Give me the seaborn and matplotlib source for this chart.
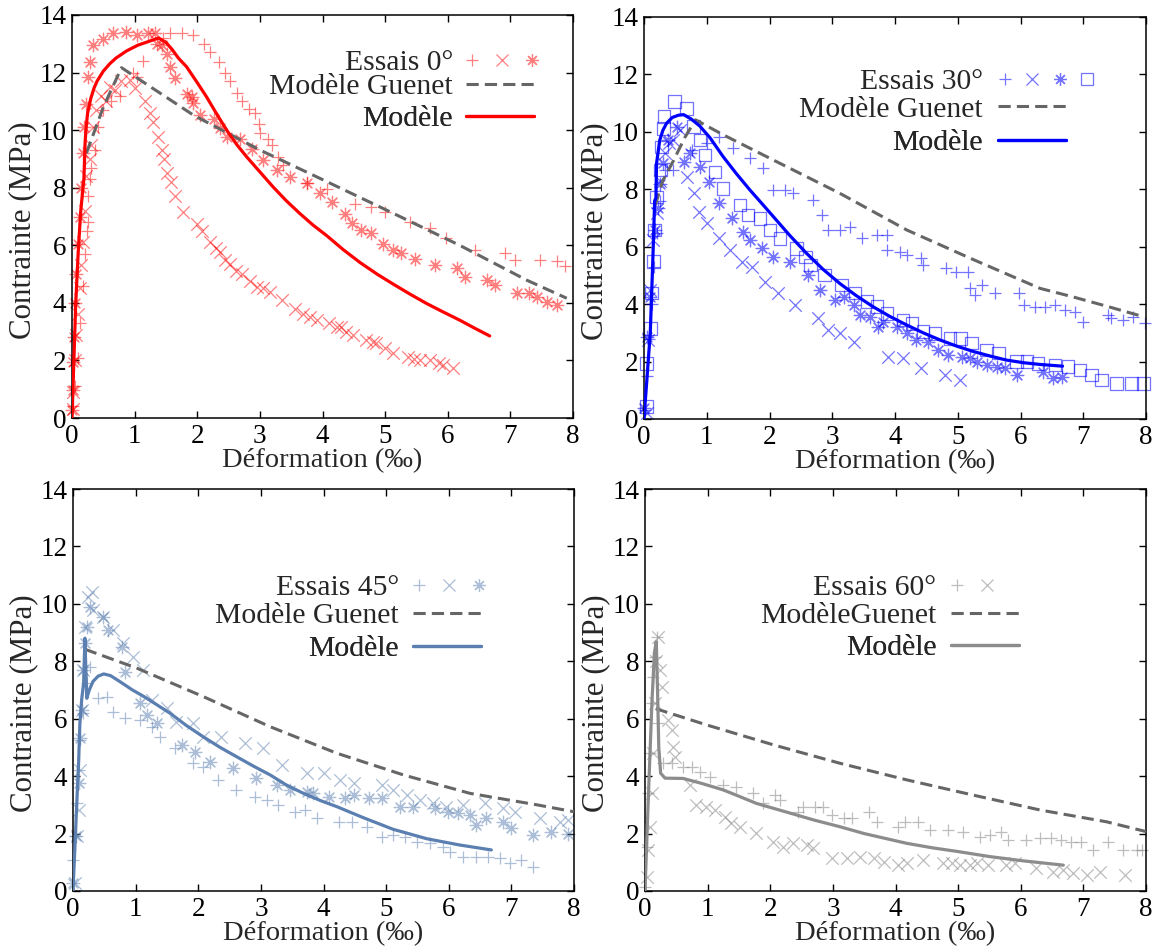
import numpy as np
import matplotlib
matplotlib.use("Agg")
import matplotlib.pyplot as plt
import matplotlib.lines as mlines
from matplotlib.legend_handler import HandlerTuple
import seaborn as sns

# ---------------- data: panel 0 deg ----------------
p0_plus_x = [0.02, 0.05, 0.09, 0.13, 0.17, 0.21, 0.24, 0.26, 0.26, 0.29, 0.31, 0.37, 0.42, 0.50, 0.63, 0.77, 0.98, 1.03, 1.14, 1.45,
             1.57, 1.75, 1.94, 2.10, 2.20, 2.35, 2.44, 2.53, 2.63, 2.71, 2.82, 2.92, 2.98, 3.00, 3.13, 3.20, 3.29, 3.37, 3.75, 4.07,
             4.52, 4.78, 5.00, 5.40, 5.72, 5.98, 6.43, 6.91, 7.07, 7.47, 7.74, 7.87]
p0_plus_y = [0.4, 1.1, 2.1, 3.3, 4.6, 5.7, 6.5, 6.8, 7.7, 8.3, 8.7, 9.3, 10.1, 10.7, 11.0, 11.2, 12.0, 11.85, 12.4, 13.2,
             13.36, 13.36, 13.3, 13.0, 12.72, 12.37, 12.0, 11.7, 11.3, 11.0, 10.75, 10.58, 10.2, 9.9, 9.7, 9.48, 9.07, 8.78, 8.15, 7.97,
             7.45, 7.34, 7.16, 6.8, 6.6, 6.24, 5.83, 5.72, 5.49, 5.49, 5.45, 5.28]
p0_cross_x = [0.01, 0.02, 0.04, 0.07, 0.10, 0.13, 0.15, 0.18, 0.21, 0.23, 0.28, 0.31, 0.34, 0.39, 0.47, 0.55, 0.61, 0.69, 0.79, 0.93,
              1.0, 1.17, 1.25, 1.30, 1.38, 1.43, 1.47, 1.51, 1.58, 1.64, 1.78, 1.99, 2.07, 2.20, 2.30, 2.36, 2.45, 2.52, 2.62, 2.71,
              2.85, 2.95, 3.05, 3.16, 3.35, 3.56, 3.69, 3.80, 3.91, 4.10, 4.23, 4.30, 4.38, 4.49, 4.70, 4.80, 4.86, 5.00, 5.13, 5.37,
              5.46, 5.56, 5.72, 5.86, 5.93, 6.09]
p0_cross_y = [0.3, 0.9, 2.0, 2.9, 3.6, 4.5, 5.3, 6.1, 7.2, 8.4, 9.0, 9.5, 10.1, 10.7, 11.2, 11.0, 11.5, 11.4, 11.7, 11.75,
              11.45, 11.0, 10.6, 10.3, 9.77, 9.3, 9.0, 8.5, 8.2, 7.7, 7.16, 6.75, 6.5, 6.1, 5.9, 5.75, 5.5, 5.35, 5.1, 5.0,
              4.75, 4.56, 4.5, 4.39, 4.1, 3.8, 3.63, 3.5, 3.4, 3.3, 3.17, 3.15, 3.0, 2.88, 2.71, 2.65, 2.6, 2.42, 2.25, 2.13,
              2.05, 2.01, 2.01, 1.9, 1.84, 1.72]
p0_star_x = [0.0, 0.01, 0.02, 0.03, 0.05, 0.07, 0.10, 0.13, 0.15, 0.18, 0.19, 0.23, 0.26, 0.29, 0.34, 0.50, 0.66, 0.87, 1.03, 1.22,
             1.33, 1.35, 1.43, 1.51, 1.56, 1.64, 1.83, 1.91, 1.94, 2.04, 2.26, 2.36, 2.47, 2.68, 2.87, 3.05, 3.27, 3.48, 3.75, 3.96,
             4.15, 4.36, 4.47, 4.62, 4.78, 4.97, 5.13, 5.26, 5.48, 5.80, 6.14, 6.28, 6.62, 6.75, 7.10, 7.29, 7.42, 7.58, 7.74]
p0_star_y = [0.28, 0.97, 1.96, 2.8, 3.98, 5.0, 6.06, 7.0, 8.0, 9.2, 10.1, 10.9, 11.85, 12.37, 12.95, 13.18, 13.36, 13.41, 13.3, 13.36,
             13.36, 13.0, 12.95, 12.66, 12.2, 11.8, 11.27, 11.16, 10.93, 10.52, 10.4, 10.06, 9.77, 9.7, 9.36, 8.96, 8.61, 8.38, 8.15, 7.8,
             7.51, 7.1, 6.76, 6.53, 6.41, 6.06, 5.83, 5.72, 5.54, 5.31, 5.2, 4.91, 4.79, 4.62, 4.33, 4.33, 4.21, 4.04, 3.92]
p0_model_x = [0.0, 0.03, 0.06, 0.10, 0.14, 0.18, 0.19, 0.21, 0.23, 0.25, 0.30, 0.35, 0.40, 0.50, 0.60, 0.70, 0.87, 1.05, 1.25, 1.38,
              1.50, 1.60, 1.70, 1.83, 2.00, 2.15, 2.30, 2.47, 2.63, 2.79, 3.00, 3.21, 3.42, 3.64, 3.85, 4.07, 4.33, 4.60, 4.87, 5.13,
              5.40, 5.66, 5.93, 6.19, 6.43, 6.67]
p0_model_y = [0.0, 2.0, 4.0, 5.8, 7.2, 8.1, 8.3, 9.6, 10.2, 10.6, 11.1, 11.45, 11.7, 12.05, 12.3, 12.5, 12.75, 12.95, 13.1, 13.2,
              13.05, 12.8, 12.5, 12.2, 11.65, 11.15, 10.6, 10.0, 9.5, 9.07, 8.55, 8.03, 7.55, 7.1, 6.7, 6.33, 5.85, 5.4, 5.0, 4.65,
              4.3, 3.98, 3.68, 3.4, 3.12, 2.85]
p0_guenet_x = [0.23, 0.5, 0.79, 1.94, 3.0, 4.07, 5.13, 6.19, 7.26, 7.9]
p0_guenet_y = [9.2, 10.8, 12.17, 10.52, 9.31, 8.21, 7.11, 6.0, 4.79, 4.16]

# ---------------- data: panel 30 deg ----------------
p1_plus_x = [0.02, 0.05, 0.08, 0.12, 0.16, 0.2, 0.26, 0.33, 0.47, 0.76, 1.0, 1.19, 1.42, 1.69, 1.9, 2.06, 2.25, 2.38, 2.7, 2.83,
             2.94, 3.12, 3.28, 3.47, 3.71, 3.87, 3.87, 4.08, 4.19, 4.42, 4.45, 4.82, 4.98, 5.17, 5.2, 5.27, 5.38, 5.59, 5.97, 6.05,
             6.23, 6.39, 6.55, 6.71, 6.87, 7.0, 7.4, 7.45, 7.64, 7.8, 7.98]
p1_plus_y = [0.3, 1.5, 2.8, 4.0, 5.3, 6.47, 7.6, 8.67, 8.67, 9.37, 9.6, 9.83, 9.43, 9.08, 8.73, 7.97, 7.97, 7.86, 7.63, 7.1,
             6.58, 6.58, 6.7, 6.29, 6.41, 6.41, 5.89, 5.83, 5.71, 5.6, 5.36, 5.25, 5.13, 5.13, 4.55, 4.32, 4.67, 4.38, 4.38, 3.97,
             3.91, 3.91, 3.97, 3.8, 3.74, 3.39, 3.62, 3.51, 3.45, 3.56, 3.35]
p1_cross_x = [0.04, 0.07, 0.10, 0.15, 0.20, 0.26, 0.33, 0.40, 0.47, 0.57, 0.68, 0.79, 0.87, 1.0, 1.19, 1.37, 1.56, 1.72, 1.93, 2.14,
              2.41, 2.78, 2.94, 3.12, 3.34, 3.89, 4.13, 4.42, 4.8, 5.04]
p1_cross_y = [0.2, 2.75, 4.49, 6.23, 7.16, 8.3, 9.25, 9.6, 9.72, 10.06, 8.44, 7.86, 7.22, 6.81, 6.29, 5.89, 5.48, 5.31, 4.78, 4.38,
              3.97, 3.51, 3.1, 2.98, 2.69, 2.17, 2.11, 1.76, 1.53, 1.36]
p1_star_x = [0.0, 0.05, 0.10, 0.18, 0.23, 0.26, 0.31, 0.39, 0.52, 0.63, 0.73, 0.89, 1.03, 1.19, 1.40, 1.58, 1.69, 1.88, 2.06, 2.33,
             2.62, 2.81, 3.05, 3.18, 3.34, 3.44, 3.60, 3.73, 3.81, 4.03, 4.19, 4.34, 4.53, 4.69, 4.85, 5.06, 5.20, 5.30, 5.46, 5.62,
             5.75, 5.94, 6.36, 6.52, 6.66]
p1_star_y = [0.4, 2.87, 4.26, 6.58, 7.34, 8.2, 8.9, 9.72, 10.18, 8.96, 9.25, 8.79, 8.27, 7.51, 6.99, 6.52, 6.23, 5.94, 5.65, 5.48,
             5.02, 4.49, 4.14, 4.26, 3.97, 3.62, 3.56, 3.22, 3.39, 3.22, 2.98, 2.75, 2.69, 2.4, 2.23, 2.17, 2.11, 2.0, 1.88, 1.82,
             1.76, 1.53, 1.65, 1.42, 1.47]
p1_square_x = [0.04, 0.04, 0.10, 0.12, 0.15, 0.17, 0.20, 0.26, 0.28, 0.31, 0.32, 0.49, 0.68, 0.79, 0.89, 0.97, 1.13, 1.26, 1.53, 1.66,
               1.85, 2.01, 2.17, 2.43, 2.57, 2.65, 2.88, 3.15, 3.36, 3.55, 3.71, 3.87, 4.13, 4.27, 4.45, 4.64, 4.88, 5.04, 5.22, 5.46,
               5.65, 5.94, 6.10, 6.28, 6.55, 6.76, 6.95, 7.13, 7.29, 7.53, 7.77, 7.96]
p1_square_y = [0.43, 1.94, 3.16, 4.38, 5.48, 6.58, 7.74, 8.67, 9.48, 10.12, 10.53, 11.05, 10.82, 10.18, 9.72, 9.19, 8.61, 8.03, 7.45, 7.1,
               6.99, 6.58, 6.29, 5.94, 5.65, 5.36, 5.02, 4.67, 4.38, 4.09, 3.91, 3.68, 3.45, 3.33, 3.04, 2.98, 2.81, 2.81, 2.64, 2.4,
               2.29, 2.0, 2.0, 1.94, 1.88, 1.82, 1.71, 1.53, 1.36, 1.24, 1.24, 1.24]
p1_model_x = [0.0, 0.05, 0.10, 0.14, 0.17, 0.19, 0.20, 0.25, 0.30, 0.36, 0.45, 0.55, 0.63, 0.75, 0.89, 1.05, 1.26, 1.47, 1.69, 1.88,
              2.06, 2.32, 2.59, 2.85, 3.12, 3.38, 3.65, 3.92, 4.19, 4.45, 4.72, 4.98, 5.25, 5.52, 5.78, 6.05, 6.31, 6.67]
p1_model_y = [0.0, 1.5, 3.0, 5.5, 7.6, 7.7, 8.9, 9.7, 10.05, 10.3, 10.5, 10.58, 10.6, 10.45, 10.2, 9.8, 9.14, 8.55, 7.97, 7.5,
              7.05, 6.4, 5.77, 5.22, 4.72, 4.3, 3.91, 3.57, 3.27, 3.0, 2.75, 2.54, 2.35, 2.19, 2.05, 1.96, 1.9, 1.84]
p1_guenet_x = [0.18, 0.3, 0.47, 0.65, 0.82, 1.26, 2.06, 3.12, 4.19, 5.25, 6.31, 6.84, 7.37, 7.9]
p1_guenet_y = [7.45, 8.3, 9.0, 9.8, 10.42, 9.9, 9.02, 7.86, 6.58, 5.55, 4.55, 4.25, 3.93, 3.6]

# ---------------- data: panel 45 deg ----------------
p2_plus_x = [0.0, 0.03, 0.06, 0.09, 0.11, 0.16, 0.22, 0.27, 0.4, 0.54, 0.64, 0.83, 1.07, 1.26, 1.39, 1.63, 1.92, 2.08, 2.32, 2.61,
             2.91, 3.09, 3.28, 3.54, 3.7, 3.89, 4.24, 4.45, 4.69, 4.93, 5.11, 5.3, 5.49, 5.7, 5.91, 6.02, 6.23, 6.44, 6.63, 6.82,
             6.98, 7.16, 7.35]
p2_plus_y = [1.08, 1.9, 3.05, 4.2, 5.26, 6.19, 7.23, 7.81, 6.71, 6.77, 6.25, 6.01, 5.96, 5.72, 5.37, 4.97, 4.45, 4.33, 3.87, 3.52,
             3.29, 3.17, 3.0, 2.76, 2.82, 2.53, 2.41, 2.41, 2.24, 1.89, 1.95, 1.89, 1.72, 1.66, 1.54, 1.37, 1.2, 1.2, 1.2, 1.14,
             0.96, 1.08, 0.85]
p2_cross_x = [0.03, 0.06, 0.09, 0.11, 0.14, 0.16, 0.19, 0.24, 0.3, 0.32, 0.48, 0.64, 0.8, 0.96, 1.12, 1.26, 1.5, 1.65, 1.92, 2.08,
              2.37, 2.75, 3.04, 3.33, 3.73, 4.0, 4.26, 4.48, 4.93, 5.11, 5.33, 5.54, 5.75, 5.96, 6.23, 6.58, 6.87, 7.06, 7.46, 7.78,
              7.91]
p2_cross_y = [0.27, 1.9, 2.82, 4.2, 6.3, 7.7, 9.2, 10.25, 10.4, 9.79, 9.55, 9.09, 8.63, 8.16, 7.7, 6.65, 6.36, 5.9, 5.84, 5.37,
              5.37, 5.14, 4.97, 4.39, 4.1, 4.1, 3.87, 3.75, 3.69, 3.52, 3.34, 3.17, 3.05, 2.94, 3.0, 3.05, 2.88, 2.76, 2.53, 2.41,
              2.47]
p2_star_x = [0.0, 0.05, 0.09, 0.11, 0.14, 0.16, 0.19, 0.22, 0.27, 0.48, 0.56, 0.78, 0.83, 1.07, 1.18, 1.34, 1.74, 1.95, 2.19, 2.56,
             2.93, 3.25, 3.46, 3.73, 3.84, 4.08, 4.34, 4.48, 4.72, 4.93, 5.22, 5.43, 5.78, 5.99, 6.15, 6.34, 6.44, 6.6, 6.87, 7.0,
             7.35, 7.64, 7.91]
p2_star_y = [0.27, 1.9, 3.75, 5.32, 6.3, 7.7, 8.63, 9.2, 9.9, 9.55, 9.09, 8.51, 7.64, 6.54, 6.13, 5.84, 5.08, 4.85, 4.5, 4.27,
             3.92, 3.69, 3.52, 3.46, 3.4, 3.29, 3.23, 3.34, 3.23, 3.23, 2.94, 2.94, 2.88, 2.76, 2.7, 2.65, 2.3, 2.53, 2.41, 2.18,
             1.95, 2.07, 2.0]
p2_model_x = [0.0, 0.03, 0.06, 0.09, 0.11, 0.14, 0.17, 0.19, 0.22, 0.26, 0.32, 0.4, 0.49, 0.6, 0.75, 0.95, 1.15, 1.35, 1.55, 1.8,
              2.08, 2.35, 2.61, 2.88, 3.15, 3.4, 3.68, 3.95, 4.21, 4.64, 5.11, 5.65, 6.18, 6.68]
p2_model_y = [0.0, 1.5, 3.05, 4.5, 5.84, 6.7, 7.25, 8.8, 6.71, 7.0, 7.3, 7.48, 7.56, 7.5, 7.29, 7.0, 6.75, 6.47, 6.19, 5.78,
              5.37, 5.0, 4.68, 4.35, 4.04, 3.7, 3.4, 3.15, 2.94, 2.55, 2.15, 1.82, 1.6, 1.43]
p2_guenet_x = [0.19, 1.02, 2.08, 3.15, 4.21, 5.28, 6.34, 7.41, 8.0]
p2_guenet_y = [8.42, 7.76, 6.77, 5.72, 4.8, 4.04, 3.4, 3.0, 2.76]

# ---------------- data: panel 60 deg ----------------
p3_plus_x = [0.0, 0.03, 0.05, 0.08, 0.11, 0.13, 0.16, 0.19, 0.21, 0.29, 0.43, 0.61, 0.75, 0.88, 1.04, 1.25, 1.46, 1.73, 1.89, 2.08,
             2.16, 2.45, 2.53, 2.71, 2.85, 2.98, 3.17, 3.3, 3.57, 3.7, 4.04, 4.15, 4.36, 4.55, 4.84, 5.08, 5.35, 5.51, 5.69, 5.8,
             6.09, 6.31, 6.49, 6.65, 6.81, 6.97, 7.16, 7.4, 7.64, 7.85, 7.93]
p3_plus_y = [0.15, 1.54, 3.4, 4.8, 6.54, 7.46, 8.16, 8.86, 5.84, 4.45, 4.45, 4.33, 4.33, 4.16, 3.98, 3.69, 3.63, 3.4, 3.05, 3.34,
             3.17, 2.76, 2.94, 2.94, 2.94, 2.65, 2.53, 2.53, 2.76, 2.41, 2.24, 2.41, 2.41, 2.12, 2.12, 2.07, 1.89, 1.95, 2.07, 1.78,
             1.78, 1.83, 1.83, 1.78, 1.72, 1.72, 1.43, 1.72, 1.43, 1.43, 1.43]
p3_cross_x = [0.03, 0.05, 0.08, 0.11, 0.13, 0.16, 0.18, 0.21, 0.24, 0.27, 0.37, 0.43, 0.45, 0.48, 0.72, 0.82, 0.98, 1.12, 1.28, 1.38,
              1.52, 1.78, 2.05, 2.21, 2.37, 2.58, 2.69, 2.99, 3.22, 3.43, 3.65, 3.81, 4.04, 4.18, 4.44, 4.76, 4.9, 5.03, 5.19, 5.3,
              5.48, 5.77, 5.91, 6.25, 6.52, 6.68, 6.84, 7.05, 7.26, 7.66]
p3_cross_y = [0.5, 1.43, 2.24, 3.4, 4.8, 6.54, 8.0, 8.86, 7.7, 7.12, 5.96, 5.61, 5.03, 4.68, 3.69, 3.0, 2.94, 2.82, 2.59, 2.36,
              2.24, 2.01, 1.72, 1.54, 1.66, 1.6, 1.49, 1.14, 1.14, 1.2, 1.14, 1.02, 0.91, 0.96, 1.08, 0.96, 0.96, 0.91, 0.91, 0.96,
              0.91, 0.91, 0.96, 0.79, 0.67, 0.73, 0.62, 0.56, 0.67, 0.56]
p3_model_x = [0.0, 0.05, 0.11, 0.15, 0.18, 0.20, 0.22, 0.25, 0.32, 0.61, 0.90, 1.25, 1.50, 1.78, 2.05, 2.37, 2.70, 3.11, 3.50, 3.90,
              4.18, 4.60, 4.98, 5.50, 6.04, 6.68]
p3_model_y = [0.0, 3.05, 6.54, 8.3, 8.68, 7.0, 5.0, 4.1, 3.93, 3.92, 3.75, 3.52, 3.3, 3.05, 2.88, 2.68, 2.47, 2.24, 2.0, 1.8,
              1.66, 1.5, 1.38, 1.2, 1.05, 0.9]
p3_guenet_x = [0.17, 0.99, 2.05, 3.11, 4.18, 5.24, 6.31, 7.37, 8.0]
p3_guenet_y = [6.35, 5.78, 5.09, 4.45, 3.87, 3.34, 2.82, 2.41, 2.07]

# ---------------- labels ----------------
essais_labels = ["Essais 0°", "Essais 30°", "Essais 45°", "Essais 60°"]
guenet_labels = ["Modèle Guenet", "Modèle Guenet", "Modèle Guenet", "ModèleGuenet"]
model_label = "Modèle"
x_label = "Déformation (‰)"
y_label = "Contrainte (MPa)"
x_ticks = [0, 1, 2, 3, 4, 5, 6, 7, 8]
y_ticks = [0, 2, 4, 6, 8, 10, 12, 14]

# ---------------- style ----------------
sns.set_style("ticks")
plt.rcParams["font.family"] = ["Liberation Serif", "DejaVu Serif"]

W, H = 1163, 949
fig = plt.figure(figsize=(W / 100, H / 100), dpi=100)

LEG_FS = 21.3
LEG_FS_PX = LEG_FS * 100 / 72.0
XL_FS = 20.5
YL_FS = 22.3
TICK_FS = 19.5

marker_specs = {
    "plus": "+",
    "cross": "x",
    "star": (8, 2, 0),
    "square": "s",
}

panels = [
    dict(rect=(72, 15, 573, 418), pt_color="#ff0000", pt_alpha=0.5, line_color="#ff0000",
         series=[("plus", p0_plus_x, p0_plus_y), ("cross", p0_cross_x, p0_cross_y), ("star", p0_star_x, p0_star_y)],
         model=(p0_model_x, p0_model_y), guenet=(p0_guenet_x, p0_guenet_y),
         leg_left=466, rows=(63, 87, 119), W=72, q=18, gap=13),
    dict(rect=(644, 17, 1146, 419), pt_color="#0000ff", pt_alpha=0.55, line_color="#0000ff",
         series=[("plus", p1_plus_x, p1_plus_y), ("cross", p1_cross_x, p1_cross_y), ("star", p1_star_x, p1_star_y),
                 ("square", p1_square_x, p1_square_y)],
         model=(p1_model_x, p1_model_y), guenet=(p1_guenet_x, p1_guenet_y),
         leg_left=998, rows=(82, 109.5, 143), W=96, q=14.2, gap=15),
    dict(rect=(73, 489, 574, 891), pt_color="#5a7fb0", pt_alpha=0.5, line_color="#5a7fb0",
         series=[("plus", p2_plus_x, p2_plus_y), ("cross", p2_cross_x, p2_cross_y), ("star", p2_star_x, p2_star_y)],
         model=(p2_model_x, p2_model_y), guenet=(p2_guenet_x, p2_guenet_y),
         leg_left=413, rows=(588, 616, 649), W=72, q=18, gap=14),
    dict(rect=(645, 489, 1146, 891), pt_color="#888888", pt_alpha=0.55, line_color="#8c8c8c",
         series=[("plus", p3_plus_x, p3_plus_y), ("cross", p3_cross_x, p3_cross_y)],
         model=(p3_model_x, p3_model_y), guenet=(p3_guenet_x, p3_guenet_y),
         leg_left=951, rows=(588, 615.5, 648), W=42, q=18, gap=14.6),
]

MS = 9.0
MEW = 0.9
LINE_W = 68

for i, pn in enumerate(panels):
    x0, y0, x1, y1 = pn["rect"]
    ax = fig.add_axes([x0 / W, (H - y1) / H, (x1 - x0) / W, (y1 - y0) / H])

    # experimental points
    for kind, sx, sy in pn["series"]:
        m = marker_specs[kind]
        kw = dict(x=sx, y=sy, ax=ax, marker=m, s=MS ** 2, linewidth=MEW, alpha=pn["pt_alpha"],
                  clip_on=False, zorder=2, legend=False)
        if kind == "square":
            sns.scatterplot(color=pn["pt_color"], facecolor="none", edgecolor=pn["pt_color"], **kw)
        else:
            sns.scatterplot(color=pn["pt_color"], **kw)

    # Guenet model (dashed)
    gx, gy = pn["guenet"]
    sns.lineplot(x=gx, y=gy, ax=ax, color="#666666", linewidth=2.2, linestyle=(0, (4, 2)),
                 sort=False, estimator=None, zorder=3, legend=False)
    # Model (solid)
    mx, my = pn["model"]
    sns.lineplot(x=mx, y=my, ax=ax, color=pn["line_color"], linewidth=2.3,
                 sort=False, estimator=None, zorder=4, legend=False)

    ax.set_xlim(0, 8)
    ax.set_ylim(0, 14)
    ax.set_xticks(x_ticks)
    ax.set_yticks(y_ticks)
    ax.tick_params(direction="in", top=True, right=True, length=5, width=1.0,
                   labelsize=TICK_FS, pad=4, colors="black")
    for sp in ax.spines.values():
        sp.set_visible(True)
        sp.set_linewidth(1.1)
        sp.set_color("black")
    ax.set_xlabel(x_label, fontsize=XL_FS, labelpad=0)
    ax.set_ylabel(y_label, fontsize=YL_FS)
    ax.yaxis.set_label_coords(-0.069, 0.466)
    ax.grid(False)

    # legend (gnuplot style: text right-aligned, samples on the right)
    marker_handles = tuple(
        mlines.Line2D([], [], linestyle="none", marker=marker_specs[k], markersize=MS,
                      markeredgewidth=MEW, color=pn["pt_color"], alpha=pn["pt_alpha"],
                      markerfacecolor="none")
        for k, _, _ in pn["series"])
    dash_handle = mlines.Line2D([], [], color="#666666", linewidth=2.2, linestyle=(0, (4, 2)))
    solid_handle = mlines.Line2D([], [], color=pn["line_color"], linewidth=2.3)

    rows = [
        (marker_handles, essais_labels[i], pn["W"], {tuple: HandlerTuple(ndivide=None, pad=pn["q"] / LEG_FS_PX)}),
        (dash_handle, guenet_labels[i], LINE_W, None),
        (solid_handle, model_label, LINE_W, None),
    ]
    for (h, lab, wpx, hmap), ypx in zip(rows, pn["rows"]):
        right = pn["leg_left"] + wpx
        leg = ax.legend([h], [lab], loc="center right",
                        bbox_to_anchor=(right / W, 1 - ypx / H), bbox_transform=fig.transFigure,
                        frameon=False, markerfirst=False, borderpad=0, borderaxespad=0,
                        handlelength=wpx / LEG_FS_PX, handletextpad=pn["gap"] / LEG_FS_PX,
                        fontsize=LEG_FS, handler_map=hmap, numpoints=1, handleheight=0.7)
        ax.add_artist(leg)

fig.savefig("out.png", dpi=100)
